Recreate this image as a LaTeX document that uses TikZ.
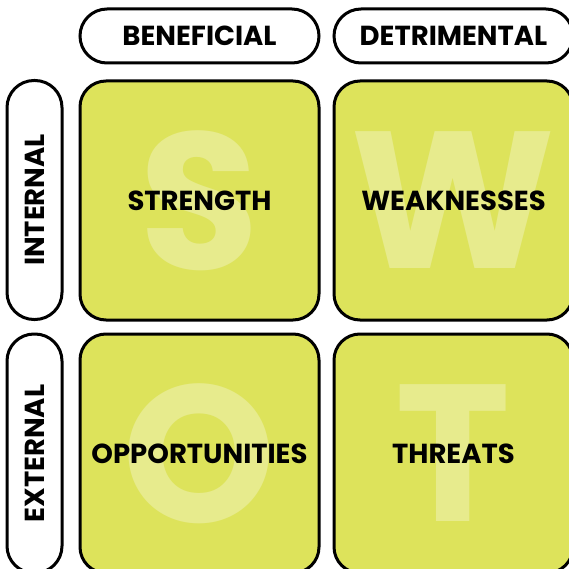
\documentclass[tikz,border=0pt]{standalone}
\usepackage{fontspec}
\setmainfont{Poppins}
\definecolor{swotfill}{HTML}{DDE35B}
\definecolor{swotletter}{HTML}{E7EB8D}

\begin{document}
\begin{tikzpicture}[x=1pt, y=-1pt,
        cell/.style={draw, line width=3pt, fill=swotfill, rounded corners=26pt,
            minimum width=239pt, minimum height=239pt},
        pill/.style={draw, line width=3pt, fill=white, rounded corners=27pt,
            minimum width=239pt, minimum height=54pt},
        side/.style={draw, line width=3pt, fill=white, rounded corners=27pt,
            minimum width=55pt, minimum height=239pt},
        tag/.style={font=\fontsize{27.5}{27.5}\selectfont\bfseries},
        bigletter/.style={anchor=base, inner sep=0pt, text=swotletter,
            font=\fontsize{195}{195}\selectfont\bfseries}]
            \useasboundingbox (0, 0) rectangle (569, 569);

            \path (199.5, 200.5) coordinate (S);
            \path (453.5, 200.5) coordinate (W);
            \path (199.5, 453.5) coordinate (O);
            \path (453.5, 453.5) coordinate (T);

            % headers
            \node[pill] (ben) at (199.5, 36) {};
            \node[pill] (det) at (453.5, 36) {};
            \node[tag] at (ben) {BENEFICIAL};
            \node[tag] at (det) {DETRIMENTAL};

            \node[side] (int) at (34.5, 200) {};
            \node[side] (ext) at (34.5, 453.5) {};
            \node[tag, rotate=90] at (int) {INTERNAL};
            \node[tag, rotate=90] at (ext) {EXTERNAL};

            % the four cells
            \node[cell] (s) at (S) {};
            \node[cell] (w) at (W) {};
            \node[cell] (o) at (O) {};
            \node[cell] (t) at (T) {};

            \node[bigletter] at ([yshift=-69pt]s) {S};
            \node[bigletter] at ([yshift=-68pt]w) {W};
            \node[bigletter] at ([yshift=-69pt]o) {O};
            \node[bigletter] at ([yshift=-68pt]t) {T};

            \node[tag] at (s) {STRENGTH};
            \node[tag] at (w) {WEAKNESSES};
            \node[tag] at (o) {OPPORTUNITIES};
            \node[tag] at (t) {THREATS};
        \end{tikzpicture}
\end{document}
